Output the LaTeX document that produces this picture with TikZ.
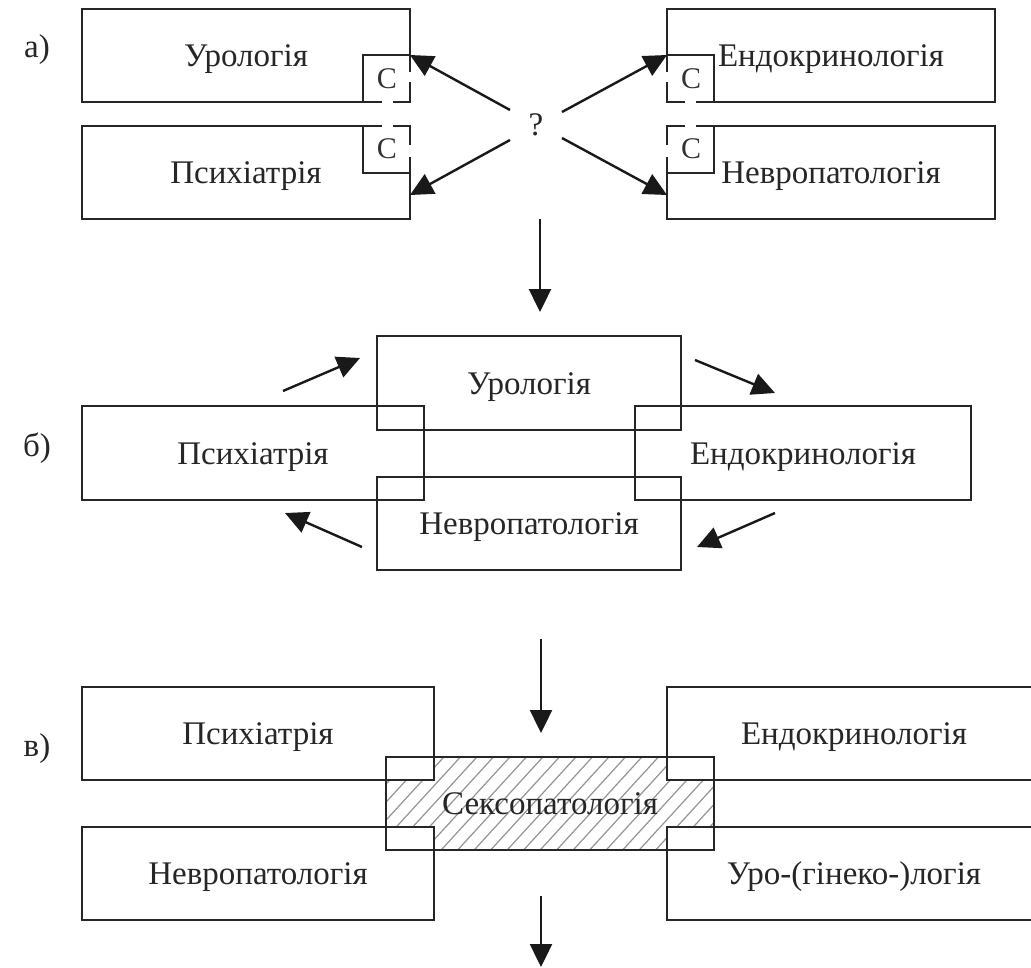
\documentclass[tikz,border=0pt]{standalone}
\usepackage{fontspec}
\setmainfont{Liberation Serif}
\usetikzlibrary{arrows.meta,patterns}
\tikzset{
  boxn/.style={draw=black!85,line width=2.2pt,inner sep=0pt,outer sep=0pt,minimum height=93.5pt,font=\fontsize{33}{35}\selectfont,text=black!85,text height=22pt,text depth=0pt},
  cbox/.style={draw=black!85,line width=2.2pt,inner sep=0pt,outer sep=0pt,minimum width=47pt,minimum height=47pt},
  txt/.style={inner sep=0pt,font=\fontsize{33}{35}\selectfont,text=black!85,text height=22pt,text depth=0pt},
  ctxt/.style={inner sep=0pt,font=\fontsize{30}{32}\selectfont,text=black!80,text height=20pt,text depth=0pt},
  gap/.style={draw=white,line width=3.5pt},
  arr/.style={draw=black!90,line width=2.4pt,-{Triangle[length=23pt,width=22pt]}},
  hatchline/.style={draw=black!42,line width=1.2pt}
}
\begin{document}
\begin{tikzpicture}[x=1pt,y=-1pt]
\clip (0,0) rectangle (1031,967);
\fill[white] (0,0) rectangle (1031,967);
% --- a)
\node[txt] (la) at (37,46) {а)};
\node[boxn,minimum width=328pt] (u1) at (246,55.5) {Урологія};
\node[boxn,minimum width=328pt] (p1) at (246,172.5) {Психіатрія};
\node[boxn,minimum width=328pt] (e1) at (831,55.5) {Ендокринологія};
\node[boxn,minimum width=328pt] (n1) at (831,172.5) {Невропатологія};
\node[cbox] (cu) at (386.5,78.5) {};
\node[cbox] (cp) at (386.5,149.5) {};
\node[cbox] (ce) at (690.5,78.5) {};
\node[cbox] (cn) at (690.5,149.5) {};
\node[ctxt] at (387,78) {С};
\node[ctxt] at (387,148) {С};
\node[ctxt] at (691,78) {С};
\node[ctxt] at (691,148) {С};
\draw[gap] (410,72) -- (410,82);
\draw[gap] (382,102) -- (393,102);
\draw[gap] (382,126) -- (393,126);
\draw[gap] (410,145) -- (410,157);
\draw[gap] (667,72) -- (667,82);
\draw[gap] (685,102) -- (696,102);
\draw[gap] (685,126) -- (696,126);
\draw[gap] (667,145) -- (667,157);
\node[txt] (q) at (536,124) {?};
\coordinate (q1) at (510,110);
\coordinate (q2) at (510,140);
\coordinate (q3) at (562,112);
\coordinate (q4) at (562,138);
\draw[arr] (q1) -- (cu.north east);
\draw[arr] (q2) -- (cp.south east |- 0,195);
\draw[arr] (q3) -- (ce.north west);
\draw[arr] (q4) -- (cn.south west |- 0,195);
\coordinate (d1a) at (540,219);
\coordinate (d1b) at (540,312);
\draw[arr] (d1a) -- (d1b);
% --- b)
\node[txt] (lb) at (37,445) {б)};
\node[boxn,minimum width=304pt] (u2) at (529,383) {Урологія};
\node[boxn,minimum width=342pt] (p2) at (253,453) {Психіатрія};
\node[boxn,minimum width=336pt] (e2) at (803,453) {Ендокринологія};
\node[boxn,minimum width=304pt] (n2) at (529,523.5) {Невропатологія};
\coordinate (b1a) at (283,391); \coordinate (b1b) at (360,358);
\coordinate (b2a) at (695,360); \coordinate (b2b) at (775,393);
\coordinate (b3a) at (775,513); \coordinate (b3b) at (697,547);
\coordinate (b4a) at (362,547); \coordinate (b4b) at (285,513);
\draw[arr] (b1a) -- (b1b);
\draw[arr] (b2a) -- (b2b);
\draw[arr] (b3a) -- (b3b);
\draw[arr] (b4a) -- (b4b);
\coordinate (d2a) at (541,639);
\coordinate (d2b) at (541,733);
\draw[arr] (d2a) -- (d2b);
% --- c)
\begin{scope}
\clip (434,757) -- (667,757) -- (667,780) -- (714,780) -- (714,827) -- (667,827) -- (667,850) -- (434,850) -- (434,827) -- (386,827) -- (386,780) -- (434,780) -- cycle;
\foreach \k in {0,...,28} {
  \draw[hatchline] ({300+16.5*\k},860) -- ({300+16.5*\k+110},740);
}
\end{scope}
\node[txt] (lc) at (37,745) {в)};
\node[boxn,minimum width=352pt] (p3) at (258,733.5) {Психіатрія};
\node[boxn,minimum width=352pt] (n3) at (258,873.5) {Невропатологія};
\node[boxn,minimum width=376pt] (e3) at (855,733.5) {};
\node[boxn,minimum width=376pt] (r3) at (855,873.5) {};
\node[txt] (e3t) at (854,733.5) {Ендокринологія};
\node[txt] (r3t) at (854,873.5) {Уро-(гінеко-)логія};
\node[draw=black!85,line width=2.2pt,inner sep=0pt,outer sep=0pt,minimum width=328pt,minimum height=93pt] (s3) at (550,803.5) {};
\node[txt] (s3t) at (550,803) {Сексопатологія};
\coordinate (d3a) at (541,896);
\coordinate (d3b) at (541,967);
\draw[arr] (d3a) -- (d3b);
\end{tikzpicture}
\end{document}
